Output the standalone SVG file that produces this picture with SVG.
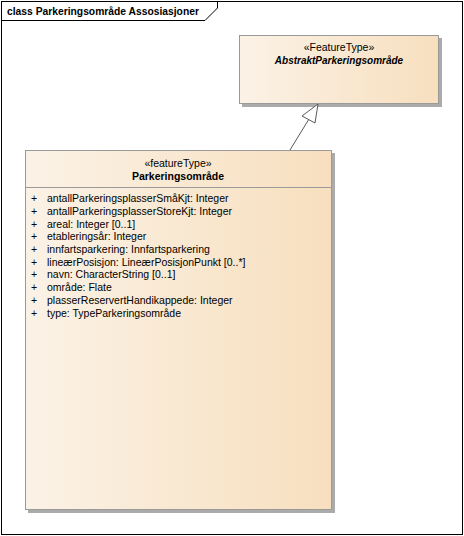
<svg xmlns="http://www.w3.org/2000/svg" width="464" height="536" viewBox="0 0 464 536">
<defs>
<linearGradient id="g" x1="0" y1="0" x2="1" y2="0">
<stop offset="0" stop-color="#FBF2E6"/>
<stop offset="1" stop-color="#F7DFBE"/>
</linearGradient>
<style>
text{font-family:"Liberation Sans",Arial,sans-serif;font-size:10.5px;fill:#000}
.b{font-weight:bold}
.c{text-anchor:middle}
.box{fill:url(#g);stroke:#9A9A9A;stroke-width:1}
.sh{fill:#ABABAB}
.ln{stroke:#5A5A5A;stroke-width:1;fill:none}
</style>
</defs>
<rect x="0" y="0" width="464" height="536" fill="#fff"/>
<g id="frame">
<rect x="1.5" y="1.5" width="461" height="533" fill="none" stroke="#000" stroke-width="1"/>
<path d="M1.5 20.5 H205 L217.5 8 V1.5" fill="none" stroke="#000" stroke-width="1"/>
<text x="7" y="15" class="b" style="font-size:10.3px">class Parkeringsområde Assosiasjoner</text>
</g>
<g id="AbstraktParkeringsomrade">
<rect class="sh" x="242" y="38" width="200" height="69"/>
<rect class="box" x="239.5" y="35.5" width="199" height="68"/>
<text x="339" y="51" class="c">«FeatureType»</text>
<text x="339" y="64" class="c b" font-style="italic" style="font-size:10px">AbstraktParkeringsområde</text>
</g>
<g id="Parkeringsomrade">
<rect class="sh" x="28" y="153" width="307" height="360"/>
<rect class="box" x="25.5" y="150.5" width="306" height="359"/>
<line x1="25.5" y1="187.5" x2="331.5" y2="187.5" stroke="#9A9A9A"/>
<text x="178" y="167" class="c">«featureType»</text>
<text x="178" y="180" class="c b">Parkeringsområde</text>
<g>
<text x="31" y="202">+</text><text x="47" y="202">antallParkeringsplasserSmåKjt: Integer</text>
<text x="31" y="215">+</text><text x="47" y="215">antallParkeringsplasserStoreKjt: Integer</text>
<text x="31" y="228">+</text><text x="47" y="228">areal: Integer [0..1]</text>
<text x="31" y="240">+</text><text x="47" y="240">etableringsår: Integer</text>
<text x="31" y="253">+</text><text x="47" y="253">innfartsparkering: Innfartsparkering</text>
<text x="31" y="266">+</text><text x="47" y="266">lineærPosisjon: LineærPosisjonPunkt [0..*]</text>
<text x="31" y="278">+</text><text x="47" y="278">navn: CharacterString [0..1]</text>
<text x="31" y="291">+</text><text x="47" y="291">område: Flate</text>
<text x="31" y="304">+</text><text x="47" y="304">plasserReservertHandikappede: Integer</text>
<text x="31" y="317">+</text><text x="47" y="317">type: TypeParkeringsområde</text>
</g>
</g>
<g id="connectors">
<line class="ln" x1="290" y1="150" x2="309" y2="119"/>
<polygon points="318,104 302,116 315,123" fill="#fff" stroke="#5A5A5A" stroke-width="1"/>
</g>
</svg>
